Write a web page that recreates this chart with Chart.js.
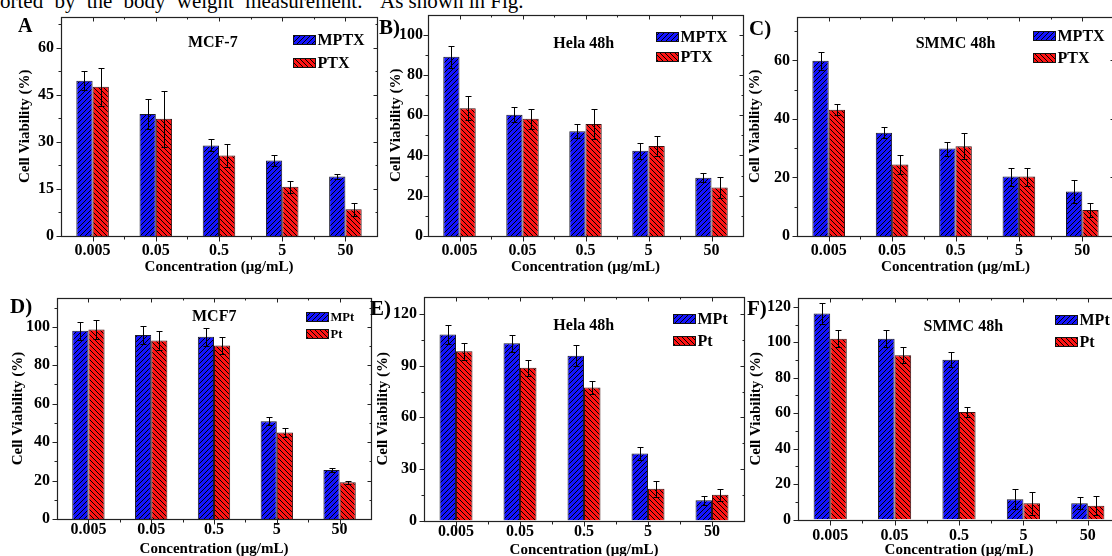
<!DOCTYPE html>
<html><head><meta charset="utf-8">
<script src="https://cdn.jsdelivr.net/npm/chart.js@4.4.0/dist/chart.umd.min.js"></script>
<style>
html,body{margin:0;padding:0;width:1112px;height:556px;overflow:hidden;background:#fff;position:relative;}
.top{position:absolute;top:-9px;font:21px "Liberation Serif",serif;line-height:20px;white-space:pre;color:#000;}
#t1{left:0;word-spacing:6px;}
#t2{left:380px;}
canvas{position:absolute;}
</style></head><body>
<div class="top" id="t1">orted by the body weight measurement.</div>
<div class="top" id="t2">As shown in Fig.</div>
<script>
// ---------- data ----------
const categories = ['0.005', '0.05', '0.5', '5', '50'];

// A: MCF-7 (MPTX / PTX)
const aMPTX    = [49.5, 38.9, 28.9, 24.1, 19.0];
const aMPTXErr = [3.0, 4.9, 1.9, 1.9, 0.9];
const aPTX     = [47.6, 37.4, 25.7, 15.7, 8.5];
const aPTXErr  = [6.0, 9.0, 3.8, 2.0, 2.1];
const aYTicks  = [0, 15, 30, 45, 60];

// B: Hela 48h (MPTX / PTX)
const bMPTX    = [89.1, 60.2, 52.0, 42.4, 28.9];
const bMPTXErr = [5.5, 3.8, 3.4, 4.0, 2.3];
const bPTX     = [63.5, 58.3, 55.6, 44.7, 24.1];
const bPTXErr  = [6.1, 4.9, 7.6, 5.0, 5.3];
const bYTicks  = [0, 20, 40, 60, 80, 100];

// C: SMMC 48h (MPTX / PTX)
const cMPTX    = [59.9, 35.3, 29.9, 20.3, 15.2];
const cMPTXErr = [3.1, 1.9, 2.4, 3.1, 3.8];
const cPTX     = [43.2, 24.4, 30.7, 20.3, 8.9];
const cPTXErr  = [2.0, 3.2, 4.5, 3.1, 2.4];
const cYTicks  = [0, 20, 40, 60];

// D: MCF7 (MPt / Pt)
const dMPt    = [97.9, 95.8, 94.8, 50.9, 25.5];
const dMPtErr = [4.7, 4.5, 4.7, 2.2, 1.2];
const dPt     = [98.6, 92.9, 90.3, 45.0, 19.1];
const dPtErr  = [5.0, 4.7, 4.5, 2.4, 0.9];
const dYTicks = [0, 20, 40, 60, 80, 100];

// E: Hela 48h (MPt / Pt)
const eMPt    = [108.2, 103.1, 95.9, 39.0, 11.8];
const eMPtErr = [5.8, 5.0, 6.2, 3.9, 2.6];
const ePt     = [98.4, 88.9, 77.3, 18.4, 15.0];
const ePtErr  = [5.0, 4.7, 3.7, 4.7, 3.5];
const eYTicks = [0, 30, 60, 90, 120];

// F: SMMC 48h (MPt / Pt)
const fMPt    = [116.2, 102.0, 90.2, 11.4, 9.1];
const fMPtErr = [5.9, 4.9, 4.2, 5.7, 3.4];
const fPt     = [102.0, 92.7, 60.7, 9.1, 7.8];
const fPtErr  = [4.9, 4.6, 3.0, 6.4, 5.3];
const fYTicks = [0, 20, 40, 60, 80, 100, 120];

// ---------- panels (text + layout) ----------
const FAMILY = '"Liberation Serif","Times New Roman",serif';
const panels = [
  {label:'A',  title:'MCF-7',    s1:'MPTX', s2:'PTX', d1:aMPTX, e1:aMPTXErr, d2:aPTX, e2:aPTXErr, yTicks:aYTicks, yMax:70,
   row:0, frame:[61,16,377,236],  wy:45, hx:40, ytp:7, xtp:5.4, lab:[-43,15,20], tp:[151.8,26.7], lg:[232.3,18.3,23,16]},
  {label:'B)', title:'Hela 48h', s1:'MPTX', s2:'PTX', d1:bMPTX, e1:bMPTXErr, d2:bPTX, e2:bPTXErr, yTicks:bYTicks, yMax:110,
   row:0, frame:[428,14,743,236], wy:41, hx:40, ytp:5, xtp:5.4, lab:[-49,19,21], tp:[155.8,29.3], lg:[228,17,20.7,16]},
  {label:'C)', title:'SMMC 48h', s1:'MPTX', s2:'PTX', d1:cMPTX, e1:cMPTXErr, d2:cPTX, e2:cPTXErr, yTicks:cYTicks, yMax:75,
   row:0, frame:[797,15,1114,236], wy:51, hx:40, ytp:7, xtp:5.4, lab:[-48,18,21], tp:[158.5,27.7], lg:[235.7,14.3,21.7,16]},
  {label:'D)', title:'MCF7',     s1:'MPt',  s2:'Pt',  d1:dMPt, e1:dMPtErr, d2:dPt, e2:dPtErr, yTicks:dYTicks, yMax:115,
   row:1, frame:[57,298,371,519], wy:48, hx:39, ytp:7, xtp:1.4, lab:[-47,15,21], tp:[157.2,18.7], lg:[249,14.3,16.7,12.5]},
  {label:'E)', title:'Hela 48h', s1:'MPt',  s2:'Pt',  d1:eMPt, e1:eMPtErr, d2:ePt, e2:ePtErr, yTicks:eYTicks, yMax:130,
   row:1, frame:[424,297,744,520], wy:50, hx:38.5, ytp:7, xtp:2, lab:[-54,18,21], tp:[159.8,29], lg:[248.7,17.3,21.7,16]},
  {label:'F)', title:'SMMC 48h', s1:'MPt',  s2:'Pt',  d1:fMPt, e1:fMPtErr, d2:fPt, e2:fPtErr, yTicks:fYTicks, yMax:125,
   row:1, frame:[798,298,1120,519], wy:51, hx:39.5, ytp:7, xtp:6.4, lab:[-51,17,21], tp:[165.3,29.3], lg:[257,17.3,22,16]}
];

function hatch(ctx, bg, dir) {
  const s = 5;
  const c = document.createElement('canvas');
  c.width = s; c.height = s;
  const x = c.getContext('2d');
  x.fillStyle = bg; x.fillRect(0, 0, s, s);
  x.strokeStyle = '#000'; x.lineWidth = 1;
  x.beginPath();
  if (dir > 0) {
    x.moveTo(0, s); x.lineTo(s, 0);
    x.moveTo(-1, 1); x.lineTo(1, -1);
    x.moveTo(s - 1, s + 1); x.lineTo(s + 1, s - 1);
  } else {
    x.moveTo(0, 0); x.lineTo(s, s);
    x.moveTo(-1, s - 1); x.lineTo(1, s + 1);
    x.moveTo(s - 1, -1); x.lineTo(s + 1, 1);
  }
  x.stroke();
  return ctx.createPattern(c, 'repeat');
}

function decor(p) {
  return {
    id: 'decor',
    afterDraw(chart) {
      const {ctx, chartArea: a, scales: {x, y}} = chart;
      ctx.save();
      // error bars
      ctx.strokeStyle = '#000'; ctx.lineWidth = 1;
      chart.data.datasets.forEach((ds, di) => {
        const meta = chart.getDatasetMeta(di);
        meta.data.forEach((bar, i) => {
          const v = ds.data[i], e = ds.errors[i];
          const bx = Math.round(bar.x) + 0.5;
          const yt = Math.round(y.getPixelForValue(v + e)) + 0.5;
          const yb = Math.round(y.getPixelForValue(v - e)) + 0.5;
          ctx.beginPath();
          ctx.moveTo(bx, yt); ctx.lineTo(bx, yb);
          ctx.moveTo(bx - 3, yt); ctx.lineTo(bx + 3, yt);
          ctx.moveTo(bx - 3, yb); ctx.lineTo(bx + 3, yb);
          ctx.stroke();
        });
      });
      // frame
      const L = Math.round(a.left) + 0.5, R = Math.round(a.right) + 0.5;
      const T = Math.round(a.top) + 0.5, B = Math.round(a.bottom) + 0.5;
      ctx.strokeStyle = '#222'; ctx.lineWidth = 1.2;
      ctx.strokeRect(L, T, R - L, B - T);
      // y ticks
      ctx.lineWidth = 1;
      const step = p.yTicks[1] - p.yTicks[0];
      ctx.beginPath();
      p.yTicks.forEach(v => {
        const py = Math.round(y.getPixelForValue(v)) + 0.5;
        ctx.moveTo(L - 5, py); ctx.lineTo(L, py);
        ctx.moveTo(R - 4, py); ctx.lineTo(R, py);
      });
      for (let v = step / 2; v < y.max; v += step) {
        const py = Math.round(y.getPixelForValue(v)) + 0.5;
        ctx.moveTo(L - 3, py); ctx.lineTo(L, py);
        ctx.moveTo(R - 2, py); ctx.lineTo(R, py);
      }
      // x ticks
      const xs = categories.map((c, i) => x.getPixelForValue(i));
      xs.forEach(px => {
        const q = Math.round(px) + 0.5;
        ctx.moveTo(q, B); ctx.lineTo(q, B + 5);
        ctx.moveTo(q, T); ctx.lineTo(q, T + 4);
      });
      for (let i = 0; i < xs.length - 1; i++) {
        const q = Math.round((xs[i] + xs[i + 1]) / 2) + 0.5;
        ctx.moveTo(q, B); ctx.lineTo(q, B + 3);
        ctx.moveTo(q, T); ctx.lineTo(q, T + 2);
      }
      ctx.stroke();
      // panel label
      ctx.fillStyle = '#000';
      ctx.font = `bold ${p.lab[2]}px ${FAMILY}`;
      ctx.textAlign = 'left'; ctx.textBaseline = 'alphabetic';
      ctx.fillText(p.label, a.left + p.lab[0], a.top + p.lab[1]);
      // inner title
      ctx.font = `bold 16px ${FAMILY}`;
      ctx.textAlign = 'center'; ctx.textBaseline = 'middle';
      ctx.fillText(p.title, a.left + p.tp[0], a.top + p.tp[1]);
      // legend
      ctx.font = `bold ${p.lg[3]}px ${FAMILY}`;
      ctx.textAlign = 'left'; ctx.textBaseline = 'middle';
      chart.data.datasets.forEach((ds, k) => {
        const bx = Math.round(a.left + p.lg[0]) + 0.5;
        const by = Math.round(a.top + p.lg[1] + k * p.lg[2]) + 0.5;
        const bw = 22, bh = 9;
        ctx.fillStyle = ds.backgroundColor;
        ctx.fillRect(bx, by, bw, bh);
        ctx.strokeStyle = '#111'; ctx.lineWidth = 1;
        ctx.strokeRect(bx, by, bw, bh);
        ctx.fillStyle = '#000';
        ctx.fillText(ds.label, bx + bw + 2, by + bh / 2 + 0.5);
      });
      ctx.restore();
    }
  };
}

function makeChart(p) {
  const [l, t, r, b] = p.frame;
  const padL = 10, padR = 6;
  const padT = p.row === 0 ? t : t - 274;
  const cl = l - p.wy - padL, ct = t - padT;
  const W = Math.round((r - l) + p.wy + padL + padR);
  const H = Math.round((b - t) + padT + p.hx);
  const cv = document.createElement('canvas');
  cv.width = W; cv.height = H;
  cv.style.left = cl + 'px'; cv.style.top = ct + 'px';
  cv.style.width = W + 'px'; cv.style.height = H + 'px';
  document.body.appendChild(cv);
  const ctx = cv.getContext('2d');
  const tickFont = {family: FAMILY, weight: 'bold', size: 16};
  const titleFont = {family: FAMILY, weight: 'bold', size: 15};
  new Chart(cv, {
    type: 'bar',
    data: {
      labels: categories,
      datasets: [
        {label: p.s1, data: p.d1, errors: p.e1, backgroundColor: hatch(ctx, '#1414ff', 1),
         borderColor: '#1a1a2a', borderWidth: 1},
        {label: p.s2, data: p.d2, errors: p.e2, backgroundColor: hatch(ctx, '#ff1414', -1),
         borderColor: '#3a1010', borderWidth: 1}
      ]
    },
    options: {
      responsive: false, animation: false, events: [],
      layout: {padding: {left: padL, right: padR, top: padT, bottom: 0}},
      plugins: {legend: {display: false}, tooltip: {enabled: false}, title: {display: false}},
      datasets: {bar: {categoryPercentage: 0.515, barPercentage: 1}},
      scales: {
        x: {
          offset: true,
          grid: {display: false, drawTicks: false},
          border: {display: false},
          ticks: {font: tickFont, color: '#000', padding: p.xtp, maxRotation: 0, autoSkip: false},
          title: {display: true, text: 'Concentration (μg/mL)', font: titleFont, color: '#000', padding: 0},
          afterFit: s => { s.height = p.hx; }
        },
        y: {
          min: 0, max: p.yMax,
          grid: {display: false, drawTicks: false},
          border: {display: false},
          ticks: {font: tickFont, color: '#000', padding: p.ytp, includeBounds: false},
          afterBuildTicks: s => { s.ticks = p.yTicks.map(v => ({value: v})); },
          title: {display: true, text: 'Cell Viability (%)', font: titleFont, color: '#000', padding: 0},
          afterFit: s => { s.width = p.wy; }
        }
      }
    },
    plugins: [decor(p)]
  });
}

panels.forEach(makeChart);
</script>
</body></html>
